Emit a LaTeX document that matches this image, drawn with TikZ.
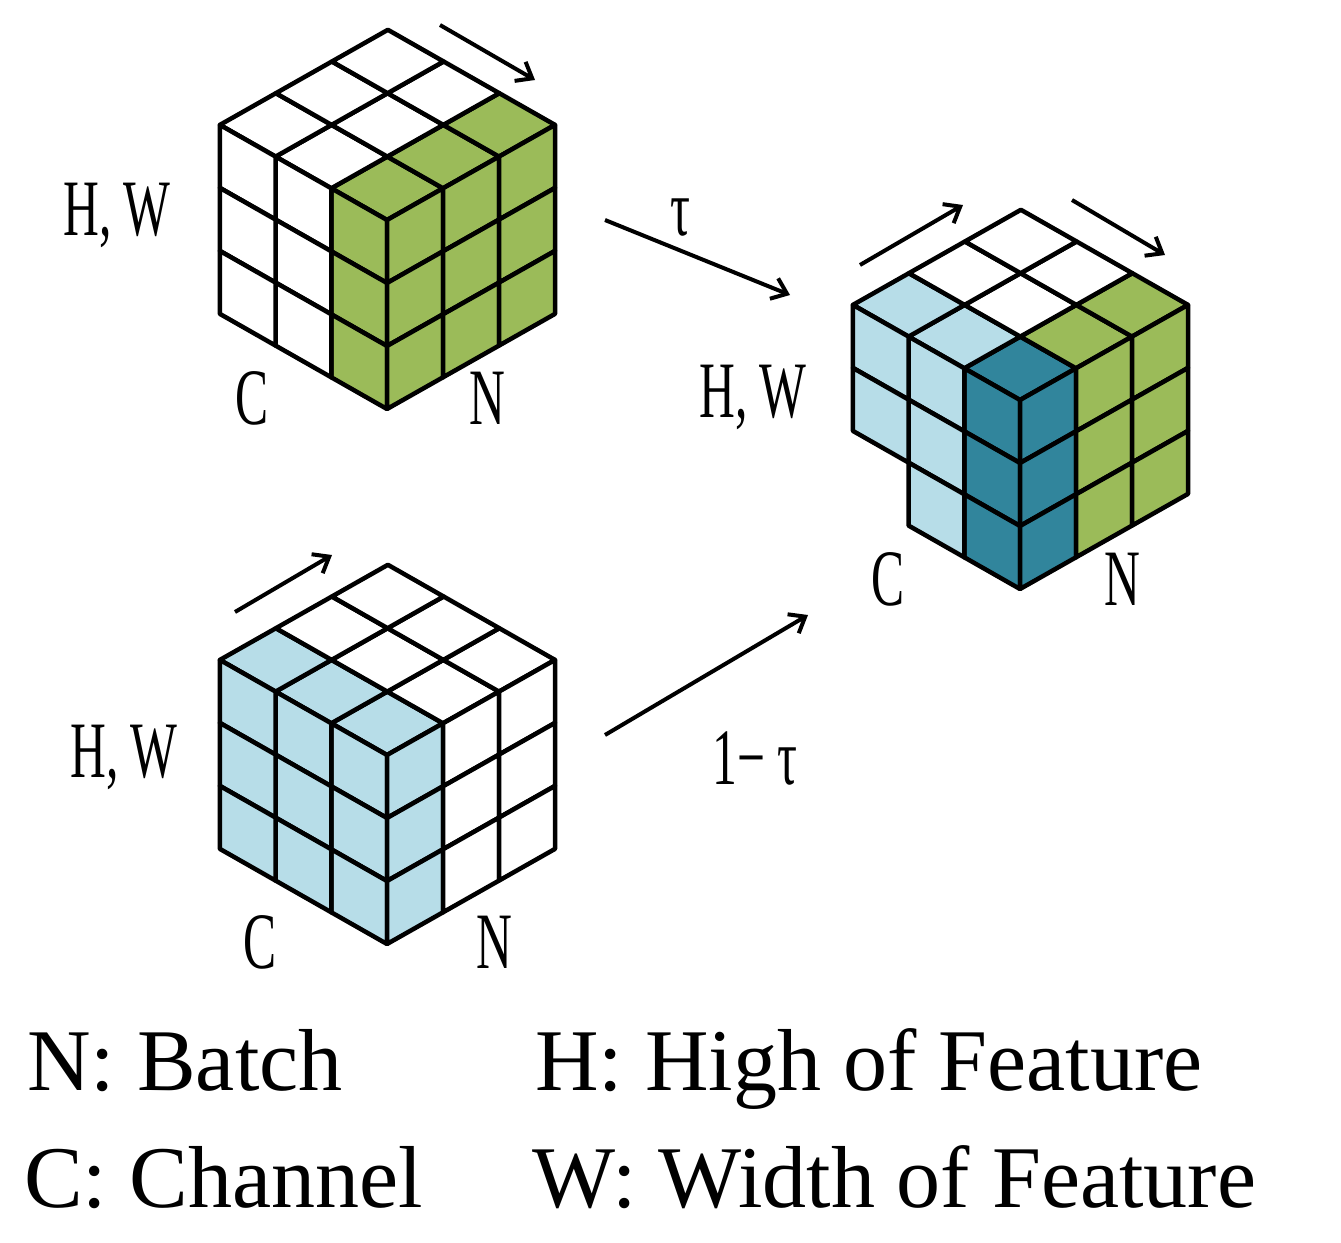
\documentclass[tikz,border=0pt]{standalone}
\usepackage{fontspec}
\setmainfont{Liberation Serif}
\usetikzlibrary{arrows.meta}
\definecolor{G}{HTML}{9BBB59}
\definecolor{B}{HTML}{B7DDE8}
\definecolor{T}{HTML}{31859C}
\definecolor{W}{HTML}{FFFFFF}
\newcommand\pg[7]{\filldraw[fill=#7] (#1,#2) -- ++(#3,#4) -- ++(#5,#6) -- ++({-(#3)},{-(#4)}) -- cycle;}
\def\ax{-55.7}\def\ay{-31.7}\def\bx{56}\def\by{-31.7}\def\dd{63}
% \cube{Fx}{Fy}{top}{left}{right}
\newcommand\mycube[5]{%
 \foreach \c [count=\n from 0] in {#3}{\pgfmathtruncatemacro\i{int(\n/3)}\pgfmathtruncatemacro\j{mod(\n,3)}%
   \pg{#1+\i*\ax+\j*\bx}{#2+\i*\ay+\j*\by}{\ax}{\ay}{\bx}{\by}{\c}}
 \foreach \c [count=\n from 0] in {#4}{\pgfmathtruncatemacro\i{int(\n/3)}\pgfmathtruncatemacro\k{mod(\n,3)}%
   \pg{#1+\i*\ax}{#2+\i*\ay+\k*\dd}{\ax}{\ay}{0}{\dd}{\c}}
 \foreach \c [count=\n from 0] in {#5}{\pgfmathtruncatemacro\j{int(\n/3)}\pgfmathtruncatemacro\k{mod(\n,3)}%
   \pg{#1+\j*\bx}{#2+\j*\by+\k*\dd}{\bx}{\by}{0}{\dd}{\c}}
}
\tikzset{
 every path/.style={line width=4.5pt,line join=round},
 arr/.style={line width=4pt,-{Straight Barb[length=14pt,width=22pt,line width=4pt]}},
 lab/.style={font=\fontsize{80}{80}\selectfont,xscale=0.62,inner sep=0},
 leg/.style={font=\fontsize{88}{88}\selectfont,anchor=base west,inner sep=0}
}
\begin{document}
\begin{tikzpicture}[x=1pt,y=-1pt]
\useasboundingbox (0,0) rectangle (1341,1242);
\fill[white] (0,0) rectangle (1341,1242);
\mycube{387}{220}{G,G,G,W,W,W,W,W,W}{G,G,G,W,W,W,W,W,W}{G,G,G,G,G,G,G,G,G}
\mycube{387}{755}{B,W,W,B,W,W,B,W,W}{B,B,B,B,B,B,B,B,B}{B,B,B,W,W,W,W,W,W}
\mycube{1020}{400}{T,G,G,B,W,W,B,W,W}{T,T,T,B,B,B,B,B}{T,T,T,G,G,G,G,G,G}
\coordinate (a1) at (440,25); \coordinate (a2) at (535,80);
\coordinate (b1) at (235,612); \coordinate (b2) at (332,555);
\coordinate (c1) at (860,265); \coordinate (c2) at (963,205);
\coordinate (d1) at (1072,200); \coordinate (d2) at (1165,255);
\coordinate (t1) at (605,220); \coordinate (t2) at (790,295);
\coordinate (u1) at (605,735); \coordinate (u2) at (808,615);
\draw[arr] (a1) -- (a2);
\draw[arr] (b1) -- (b2);
\draw[arr] (c1) -- (c2);
\draw[arr] (d1) -- (d2);
\draw[arr] (t1) -- (t2);
\draw[arr] (u1) -- (u2);
\node[lab] (hw1) at (117,215) {H, W};
\node[lab] (c1l) at (252,398) {C};
\node[lab] (n1l) at (487,398) {N};
\node[lab] (hw2) at (124,757) {H, W};
\node[lab] (c2l) at (260,942) {C};
\node[lab] (n2l) at (494,942) {N};
\node[lab] (hw3) at (753,397) {H, W};
\node[lab] (c3l) at (888,579) {C};
\node[lab] (n3l) at (1122,579) {N};
\node[lab] (tau) at (680,218) {τ};
\node[lab] (omt) at (755,758) {1− τ};
\node[leg] (l1) at (25,1090) {N: Batch};
\node[leg] (l2) at (533,1090) {H: High of Feature};
\node[leg] (l3) at (22,1207) {C: Channel};
\node[leg] (l4) at (530,1207) {W: Width of Feature};
\end{tikzpicture}
\end{document}
